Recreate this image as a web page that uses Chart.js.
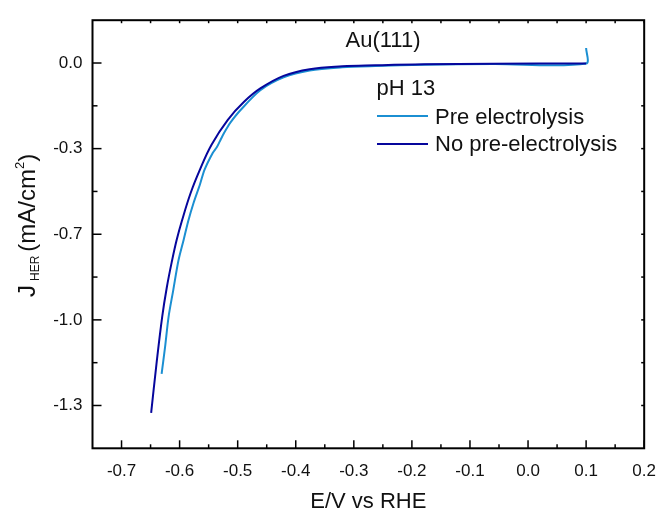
<!DOCTYPE html>
<html>
<head>
<meta charset="utf-8">
<script src="https://cdn.jsdelivr.net/npm/chart.js@4.4.1/dist/chart.umd.min.js"></script>
<style>
  body { margin: 0; background: #fff; }
  canvas { display: block; }
</style>
</head>
<body>
<canvas id="herChart" width="669" height="512"></canvas>
<script>
// E (V vs RHE) and J_HER (mA/cm2)
const noPreE = [-0.649, -0.640, -0.630, -0.622, -0.613, -0.605, -0.596, -0.581, -0.565, -0.545, -0.517, -0.489, -0.461, -0.421, -0.376, -0.320, -0.263, -0.179, -0.060, 0.100];
const noPreJ = [-1.362, -1.175, -0.988, -0.873, -0.769, -0.688, -0.614, -0.506, -0.415, -0.318, -0.221, -0.151, -0.099, -0.050, -0.024, -0.013, -0.009, -0.005, -0.003, -0.0015];

const preE = [-0.631, -0.625, -0.619, -0.611, -0.602, -0.593, -0.585, -0.576, -0.565, -0.557, -0.543, -0.536, -0.531, -0.526, -0.519, -0.512, -0.495, -0.461, -0.421, -0.376, -0.320, -0.263, -0.179, -0.060, 0.100, 0.100];
const preJ = [-1.210, -1.105, -0.988, -0.885, -0.769, -0.688, -0.614, -0.545, -0.473, -0.415, -0.350, -0.328, -0.306, -0.283, -0.255, -0.230, -0.183, -0.106, -0.056, -0.029, -0.017, -0.012, -0.007, -0.004, -0.002, 0.058];

const xTicks = [-0.7, -0.6, -0.5, -0.4, -0.3, -0.2, -0.1, 0.0, 0.1, 0.2];
const yTicks = [0, -1 / 3, -2 / 3, -1, -4 / 3];
const yTickLabels = ['0.0', '-0.3', '-0.7', '-1.0', '-1.3'];

const seriesNames = ['Pre electrolysis', 'No pre-electrolysis'];

const FONT = "'Liberation Sans', Arial, sans-serif";
Chart.defaults.font.family = FONT;
Chart.defaults.color = '#111';

function pts(xs, ys) {
  return xs.map((x, i) => ({ x: x, y: ys[i] }));
}

// frame, inward ticks, axis titles and the in-plot legend
const framePlugin = {
  id: 'frame',
  afterDraw(chart) {
    const ctx = chart.ctx;
    const a = chart.chartArea;
    const sx = chart.scales.x, sy = chart.scales.y;
    ctx.save();
    ctx.strokeStyle = '#000';
    ctx.lineWidth = 1.5;
    function seg(x1, y1, x2, y2) {
      ctx.beginPath(); ctx.moveTo(x1, y1); ctx.lineTo(x2, y2); ctx.stroke();
    }
    xTicks.forEach((v, i) => {
      const p = sx.getPixelForValue(v);
      seg(p, a.bottom, p, a.bottom - 8);
      seg(p, a.top, p, a.top + 3);
      if (i > 0) {
        const m = sx.getPixelForValue((v + xTicks[i - 1]) / 2);
        seg(m, a.bottom, m, a.bottom - 4);
        seg(m, a.top, m, a.top + 3);
      }
    });
    yTicks.forEach((v, i) => {
      const p = sy.getPixelForValue(v);
      seg(a.left, p, a.left + 9, p);
      seg(a.right, p, a.right - 3, p);
      if (i > 0) {
        const m = sy.getPixelForValue((v + yTicks[i - 1]) / 2);
        seg(a.left, m, a.left + 5, m);
        seg(a.right, m, a.right - 3, m);
      }
    });
    ctx.lineWidth = 2;
    ctx.strokeRect(a.left, a.top, a.right - a.left, a.bottom - a.top);

    ctx.fillStyle = '#111';
    ctx.textBaseline = 'alphabetic';
    ctx.textAlign = 'left';
    ctx.font = '22px ' + FONT;
    ctx.fillText('Au(111)', 345.5, 46.5);
    ctx.fillText('pH 13', 376.5, 95);
    ctx.fillText(seriesNames[0], 435, 123.5);
    ctx.fillText(seriesNames[1], 435, 150.5);
    ctx.lineWidth = 2;
    ctx.strokeStyle = '#1b8fd2';
    seg(377, 116, 428, 116);
    ctx.strokeStyle = '#06069c';
    seg(377, 144, 428, 144);

    // x title
    ctx.textAlign = 'center';
    ctx.fillText('E/V vs RHE', (a.left + a.right) / 2, 508);

    // y title with sub/superscript
    ctx.textAlign = 'left';
    ctx.translate(35, 297);
    ctx.rotate(-Math.PI / 2);
    let cx = 0;
    ctx.font = '24px ' + FONT;
    ctx.fillText('J', cx, 0);
    cx += ctx.measureText('J').width + 4;
    ctx.font = '12px ' + FONT;
    ctx.fillText('HER', cx, 4);
    cx += ctx.measureText('HER').width + 4;
    ctx.font = '24px ' + FONT;
    ctx.fillText('(mA/cm', cx, 0);
    cx += ctx.measureText('(mA/cm').width;
    ctx.font = '13px ' + FONT;
    ctx.fillText('2', cx, -11);
    cx += ctx.measureText('2').width;
    ctx.font = '24px ' + FONT;
    ctx.fillText(')', cx, 0);
    ctx.restore();
  }
};

new Chart(document.getElementById('herChart').getContext('2d'), {
  type: 'scatter',
  data: {
    datasets: [{
      label: seriesNames[1],
      data: pts(noPreE, noPreJ),
      showLine: true,
      borderColor: '#06069c',
      borderWidth: 2,
      pointRadius: 0,
      tension: 0.4,
      order: 0
    }, {
      label: seriesNames[0],
      data: pts(preE, preJ),
      showLine: true,
      borderColor: '#1b8fd2',
      borderWidth: 2,
      pointRadius: 0,
      tension: 0.3,
      order: 1
    }]
  },
  options: {
    responsive: false,
    animation: false,
    layout: { padding: { top: 17.3, right: 15.5, left: 0, bottom: 0 } },
    plugins: { legend: { display: false }, tooltip: { enabled: false } },
    scales: {
      x: {
        type: 'linear',
        min: -0.75,
        max: 0.2,
        grid: { display: false, drawTicks: false },
        border: { display: false },
        afterBuildTicks: (s) => { s.ticks = xTicks.map(v => ({ value: v })); },
        afterFit: (s) => { s.height = 63.7; },
        ticks: {
          autoSkip: false,
          maxRotation: 0,
          padding: 13,
          font: { size: 17 },
          callback: (v) => Number(v).toFixed(1)
        }
      },
      y: {
        type: 'linear',
        min: -1.5,
        max: 1 / 6,
        grid: { display: false, drawTicks: false },
        border: { display: false },
        afterBuildTicks: (s) => { s.ticks = yTicks.map(v => ({ value: v })); },
        afterFit: (s) => { s.width = 92.5; },
        ticks: {
          autoSkip: false,
          padding: 10,
          font: { size: 17 },
          callback: (v, i) => yTickLabels[i]
        }
      }
    }
  },
  plugins: [framePlugin]
});
</script>
</body>
</html>
